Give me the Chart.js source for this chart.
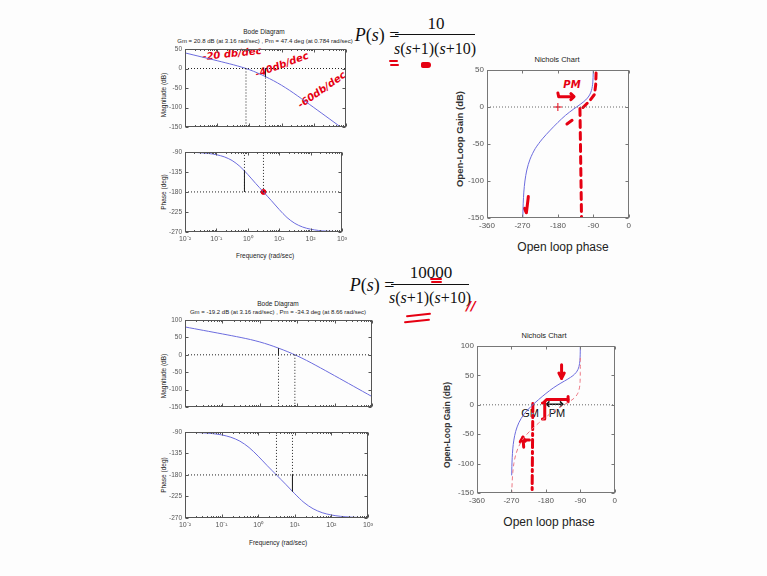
<!DOCTYPE html>
<html>
<head>
<meta charset="utf-8">
<script src="https://cdn.jsdelivr.net/npm/chart.js@4.4.1/dist/chart.umd.min.js"></script>
<style>
  html,body{margin:0;padding:0;}
  body{width:767px;height:576px;background:#fdfdfd;position:relative;overflow:hidden;font-family:"Liberation Sans",Arial,sans-serif;color:#222;}
  canvas{position:absolute;}
  .t{position:absolute;transform:translate(-50%,-50%);white-space:nowrap;line-height:1;}
  .r{transform:translate(-50%,-50%) rotate(-90deg);}
  .sm{font-size:6.5px;}
  .eq{font-family:"Liberation Serif","DejaVu Serif",serif;color:#111;}
  .bar{position:absolute;height:1px;background:#111;}
  .hw{color:#e60012;font-family:"DejaVu Sans",sans-serif;font-weight:bold;font-style:italic;}
  .pen{position:absolute;background:#e60012;border-radius:2px;}
</style>
</head>
<body>

<!-- top equation -->
<div class="t eq" style="left:377px;top:35px;font-size:18px;"><i>P</i>(<i>s</i>) =</div>
<div class="t eq" style="left:436px;top:23px;font-size:17px;">10</div>
<div class="bar" style="left:395px;top:34px;width:80px;"></div>
<div class="t eq" style="left:435px;top:49px;font-size:16px;"><i>s</i>(<i>s</i>+1)(<i>s</i>+10)</div>
<div class="pen" style="left:389px;top:60px;width:9px;height:2px;"></div>
<div class="pen" style="left:390px;top:64px;width:9px;height:2px;"></div>
<div class="pen" style="left:421px;top:62px;width:10px;height:6px;border-radius:3px 5px 5px 3px;"></div>

<!-- bottom equation -->
<div class="t eq" style="left:372px;top:285px;font-size:18px;"><i>P</i>(<i>s</i>) =</div>
<div class="t eq" style="left:431px;top:272px;font-size:17px;">10000</div>
<div class="bar" style="left:391px;top:284px;width:78px;"></div>
<div class="t eq" style="left:430px;top:298px;font-size:16px;"><i>s</i>(<i>s</i>+1)(<i>s</i>+10)</div>
<div class="pen" style="left:430px;top:278px;width:12px;height:2px;"></div>
<div class="pen" style="left:431px;top:281px;width:11px;height:2px;"></div>
<div class="pen" style="left:406px;top:314px;width:25px;height:2px;transform:rotate(-6deg);"></div>
<div class="pen" style="left:404px;top:320px;width:26px;height:2px;transform:rotate(-6deg);"></div>
<div class="t hw" style="left:471px;top:305px;font-size:13px;">//</div>

<!-- bode texts -->
<div class="t sm" style="left:264px;top:32px;">Bode Diagram</div>
<div class="t sm" style="left:265px;top:41px;font-size:6px;">Gm = 20.8 dB (at 3.16 rad/sec) ,  Pm = 47.4 deg (at 0.784 rad/sec)</div>
<div class="t sm r" style="left:164px;top:95px;">Magnitude (dB)</div>
<div class="t sm r" style="left:164px;top:192px;">Phase (deg)</div>
<div class="t sm" style="left:265px;top:256px;">Frequency  (rad/sec)</div>

<div class="t sm" style="left:278px;top:304px;">Bode Diagram</div>
<div class="t sm" style="left:278px;top:312px;font-size:6px;">Gm = -19.2 dB (at 3.16 rad/sec) ,  Pm = -34.3 deg (at 8.66 rad/sec)</div>
<div class="t sm r" style="left:164px;top:376px;">Magnitude (dB)</div>
<div class="t sm r" style="left:164px;top:475px;">Phase (deg)</div>
<div class="t sm" style="left:278px;top:543px;">Frequency  (rad/sec)</div>

<!-- handwriting on top bode -->
<div class="t hw" style="left:232px;top:54px;font-size:10px;transform:translate(-50%,-50%) rotate(-6deg);">-20 db/dec</div>
<div class="t hw" style="left:282px;top:65px;font-size:10px;transform:translate(-50%,-50%) rotate(-20deg);">-40db/dec</div>
<div class="t hw" style="left:322px;top:90px;font-size:10px;transform:translate(-50%,-50%) rotate(-35deg);">-60db/dec</div>

<!-- nichols texts -->
<div class="t" style="left:557px;top:60px;font-size:7.5px;">Nichols Chart</div>
<div class="t r" style="left:460px;top:139px;font-size:9.5px;font-weight:bold;color:#333;">Open-Loop Gain (dB)</div>
<div class="t" style="left:563px;top:247px;font-size:12px;">Open loop phase</div>
<div class="t hw" style="left:572px;top:85px;font-size:10px;">PM</div>

<div class="t" style="left:544px;top:336px;font-size:7.5px;">Nichols Chart</div>
<div class="t r" style="left:447px;top:425px;font-size:8.5px;font-weight:bold;color:#333;">Open-Loop Gain (dB)</div>
<div class="t" style="left:549px;top:522px;font-size:12px;">Open loop phase</div>
<div class="t" style="left:530px;top:413px;font-size:11px;color:#111;">GM</div>
<div class="t" style="left:557px;top:413px;font-size:11px;color:#111;">PM</div>

<canvas id="magTop"></canvas>
<canvas id="phTop"></canvas>
<canvas id="magBot"></canvas>
<canvas id="phBot"></canvas>
<canvas id="nicTop"></canvas>
<canvas id="nicBot"></canvas>

<script>
// frequency grid (rad/sec), quarter decades
const FREQ = [1e-4,1.78e-4,3.16e-4,5.62e-4,1e-3,1.78e-3,3.16e-3,5.62e-3,
  0.01,0.0178,0.0316,0.0562,0.1,0.178,0.316,0.562,1,1.78,3.16,5.62,10,17.8,31.6,56.2,100,178,316,562,1000];
// phase (deg), same for both gains
const PHASE = [-90.0,-90.01,-90.02,-90.04,-90.06,-90.11,-90.2,-90.36,
  -90.63,-91.12,-91.99,-93.54,-96.28,-101.1,-109.3,-122.6,-140.7,-160.8,-180.0,-199.3,-219.3,-237.5,-250.6,-258.9,-263.7,-266.5,-268.0,-268.9,-269.4];
// magnitude (dB), upper system
const MAG_K10 = [80,75,70,65,60,55,50,45,
  40.0,35.0,30.0,25.0,19.96,14.86,9.58,3.80,-3.05,-11.32,-20.83,-31.32,-43.05,-56.2,-70.4,-85.1,-100.0,-115.0,-130.0,-145.0,-160.0];
// magnitude (dB), lower system
const MAG_K1000 = [120,115,110,105,100,95,90,85,
  80.0,75.0,70.0,65.0,59.96,54.86,49.58,43.80,36.95,28.68,19.17,8.68,-3.05,-16.2,-30.4,-45.1,-60.0,-75.0,-90.0,-105.0,-120.0];

const FREQ_DECADES = [0.01,0.1,1,10,100,1000];
const MAG_TICKS_TOP = [50,0,-50,-100,-150];
const MAG_TICKS_BOT = [100,50,0,-50,-100,-150];
const PHASE_TICKS = [-90,-135,-180,-225,-270];
const NIC_X_TICKS = [-360,-270,-180,-90,0];
const NIC_Y_TOP = [50,0,-50,-100,-150];
const NIC_Y_BOT = [100,50,0,-50,-100,-150];

// margins as printed in the titles
const GM1 = {w:3.16, db:20.8},  PM1 = {w:0.784, deg:47.4};
const GM2 = {w:3.16, db:-19.2}, PM2 = {w:8.66, deg:-34.3};

// pen marks on the nichols charts, [phase, gain]
const PEN_TOP = [
  {pts:[[-180,19],[-178,14],[-141,14]]},
  {pts:[[-147,18],[-139,14],[-147,10]]},
  {pts:[[-124,-2],[-120,-150]], dash:[7,5]},
  {pts:[[-157,-23],[-144,-18]]},
  {pts:[[-83,46],[-84,30],[-87,17],[-100,8],[-117,-1]], dash:[6,5]},
  {pts:[[-255,-121],[-260,-143],[-265,-137]]}
];
const PEN_BOT = [
  {pts:[[-139,68],[-139,45]]},
  {pts:[[-146,54],[-139,45],[-132,54]]},
  {pts:[[-214,2],[-216,-152]], dash:[8,4,2,4]},
  {pts:[[-238,-72],[-240,-55]]},
  {pts:[[-247,-63],[-240,-55],[-234,-62]]},
  {pts:[[-239,-60],[-223,-60]]},
  {pts:[[-189,3],[-183,3],[-183,-24],[-189,-24]]},
  {pts:[[-184,5],[-178,9],[-122,9]]},
  {pts:[[-122,14],[-122,5]]}
];
const ARROW_BOT = [
  [[-178,1],[-136,1]],
  [[-172,5],[-178,1],[-172,-3]],
  [[-142,5],[-136,1],[-142,-3]]
];

const RED = '#e60012', BLUE = 'rgb(108,108,222)';
const FREQ_MINOR = [];
FREQ_DECADES.slice(0,-1).forEach(d=>{ for(let k=2;k<10;k++) FREQ_MINOR.push(d*k); });

const SUP = {'-':'⁻','0':'⁰','1':'¹','2':'²','3':'³'};
const sup = v => '10' + String(Math.round(Math.log10(v))).split('').map(c=>SUP[c]).join('');

// axes box with inward ticks, matlab style
const frame = {
  id:'frame',
  afterDatasetsDraw(chart, _a, o){
    const {ctx, chartArea:a} = chart, sx = chart.scales.x, sy = chart.scales.y;
    const L = (x1,y1,x2,y2)=>{ ctx.beginPath(); ctx.moveTo(x1,y1); ctx.lineTo(x2,y2); ctx.stroke(); };
    ctx.save();
    ctx.strokeStyle = o.color || '#555'; ctx.lineWidth = 1;
    const l=Math.round(a.left)+0.5, t=Math.round(a.top)+0.5, r=Math.round(a.right)-0.5, b=Math.round(a.bottom)-0.5;
    ctx.strokeRect(l, t, r-l, b-t);
    (o.xMajor||[]).forEach(v=>{ const p=Math.round(sx.getPixelForValue(v))+0.5; L(p,b,p,b-3); L(p,t,p,t+3); });
    (o.xMinor||[]).forEach(v=>{ const p=Math.round(sx.getPixelForValue(v))+0.5; L(p,b,p,b-1.5); L(p,t,p,t+1.5); });
    (o.yMajor||[]).forEach(v=>{ const p=Math.round(sy.getPixelForValue(v))+0.5; L(l,p,l+3,p); L(r,p,r-3,p); });
    ctx.restore();
  }
};

const pts = (xs, ys) => xs.map((x,i)=>({x, y:ys[i]}));
const curve = (data, c) => ({data, showLine:true, borderColor:c||BLUE, borderWidth:1, pointRadius:0, tension:0.3});
const seg = (x1,y1,x2,y2,dotted) => ({data:[{x:x1,y:y1},{x:x2,y:y2}], showLine:true, borderColor:'#222',
  borderWidth:1, borderDash:dotted?[1,2]:[], pointRadius:0, tension:0});
const pen = (p, c, w) => ({data:p.pts.map(([x,y])=>({x,y})), showLine:true, borderColor:c||RED, borderWidth:w||3,
  borderDash:p.dash||[], pointRadius:0, tension:0, borderCapStyle:'round', borderJoinStyle:'round'});

function yAxis(min, max, step, w, fs){
  return {type:'linear', min, max, ticks:{stepSize:step, font:{size:fs, family:'Liberation Sans'}, color:'#555', padding:3},
    grid:{display:false, drawTicks:false}, border:{display:false}, afterFit(s){ s.width = w; }};
}
function freqAxis(show){
  return {type:'logarithmic', min:0.01, max:1000, display:show,
    afterBuildTicks(s){ s.ticks = FREQ_DECADES.map(v=>({value:v})); },
    ticks:{autoSkip:false, maxRotation:0, font:{size:7, family:'Liberation Sans'}, color:'#555', padding:3, callback:v=>sup(v)},
    grid:{display:false, drawTicks:false}, border:{display:false}, afterFit(s){ s.height = 13; }};
}
function phaseAxis(){
  return {type:'linear', min:-360, max:0,
    ticks:{stepSize:90, font:{size:8, family:'Liberation Sans'}, color:'#555', padding:3},
    grid:{display:false, drawTicks:false}, border:{display:false}, afterFit(s){ s.height = 16; }};
}

function make(id, box, x, y, datasets, fr){
  const c = document.getElementById(id);
  c.width = box.w; c.height = box.h;
  c.style.left = box.x+'px'; c.style.top = box.y+'px';
  return new Chart(c, {
    type:'scatter',
    data:{datasets},
    options:{
      responsive:false, animation:false, devicePixelRatio:1, events:[],
      layout:{padding:{top:box.pt, right:box.pr, bottom:box.pb||0, left:0}},
      plugins:{legend:{display:false}, tooltip:{enabled:false}, frame:fr},
      scales:{x, y}
    },
    plugins:[frame]
  });
}

const bodeFrame = yt => ({xMajor:FREQ_DECADES, xMinor:FREQ_MINOR, yMajor:yt, color:'#555'});

// top bode
make('magTop', {x:150,y:42,w:200,h:102,pt:7,pr:4,pb:4}, freqAxis(false), yAxis(-150,50,50,35,6.5), [
  seg(0.01,0,1000,0,true),
  seg(PM1.w,0,PM1.w,-150,true),
  seg(GM1.w,0,GM1.w,-150,true),
  seg(GM1.w,0,GM1.w,-GM1.db,false),
  curve(pts(FREQ, MAG_K10))
], bodeFrame(MAG_TICKS_TOP));

make('phTop', {x:150,y:145,w:200,h:100,pt:6,pr:4}, freqAxis(true), yAxis(-270,-90,45,35,6.5), [
  seg(0.01,-180,1000,-180,true),
  seg(PM1.w,-90,PM1.w,-180,true),
  seg(GM1.w,-90,GM1.w,-180,true),
  seg(PM1.w,-180,PM1.w,-180+PM1.deg,false),
  curve(pts(FREQ, PHASE)),
  {data:[{x:GM1.w,y:-180}], pointRadius:2.5, backgroundColor:RED, borderColor:RED}
], bodeFrame(PHASE_TICKS));

// bottom bode
make('magBot', {x:150,y:313,w:226,h:111,pt:7,pr:4,pb:4}, freqAxis(false), yAxis(-150,100,50,35,6.5), [
  seg(0.01,0,1000,0,true),
  seg(PM2.w,0,PM2.w,-150,true),
  seg(GM2.w,0,GM2.w,-150,true),
  seg(GM2.w,0,GM2.w,-GM2.db,false),
  curve(pts(FREQ, MAG_K1000))
], bodeFrame(MAG_TICKS_BOT));

make('phBot', {x:150,y:425,w:226,h:106,pt:6,pr:4}, freqAxis(true), yAxis(-270,-90,45,35,6.5), [
  seg(0.01,-180,1000,-180,true),
  seg(PM2.w,-90,PM2.w,-180,true),
  seg(GM2.w,-90,GM2.w,-180,true),
  seg(PM2.w,-180,PM2.w,-180+PM2.deg,false),
  curve(pts(FREQ, PHASE))
], bodeFrame(PHASE_TICKS));

// nichols charts
const zeroLine = () => ({...seg(-360,0,0,0,true), borderColor:'#666'});

make('nicTop', {x:437,y:62,w:197,h:172,pt:8,pr:5}, phaseAxis(), yAxis(-150,50,50,50,8), [
  zeroLine(),
  curve(pts(PHASE, MAG_K10)),
  {data:[{x:-180,y:0}], pointStyle:'cross', pointRadius:4, borderColor:RED, borderWidth:1},
  ...PEN_TOP.map(p=>pen(p))
], {xMajor:NIC_X_TICKS, yMajor:NIC_Y_TOP, color:'#777'});

make('nicBot', {x:427,y:337,w:193,h:172,pt:9,pr:5}, phaseAxis(), yAxis(-150,100,50,50,8), [
  zeroLine(),
  {...curve(pts(PHASE, MAG_K10), 'rgb(236,120,132)'), borderDash:[4,3]},
  curve(pts(PHASE, MAG_K1000)),
  ...PEN_BOT.map(p=>pen(p)),
  ...ARROW_BOT.map(a=>pen({pts:a}, '#111', 1.5))
], {xMajor:NIC_X_TICKS, yMajor:NIC_Y_BOT, color:'#777'});
</script>
</body>
</html>
